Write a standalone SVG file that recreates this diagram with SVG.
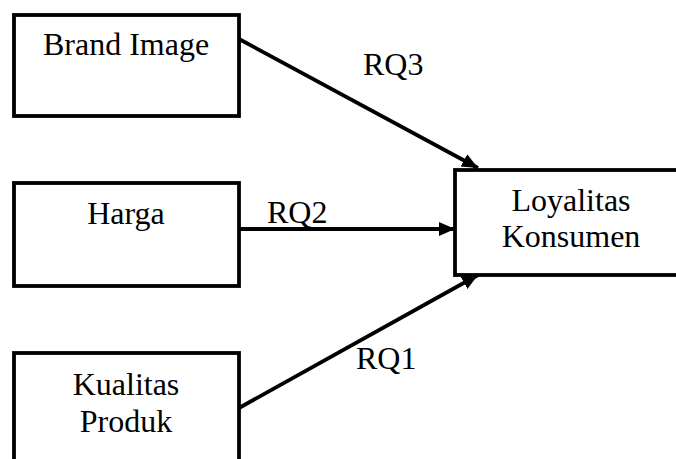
<svg xmlns="http://www.w3.org/2000/svg" width="676" height="459" viewBox="0 0 676 459">
<style>
.box{fill:#fff;stroke:#000;stroke-width:3.8}
.t{font-family:"Liberation Serif","Times New Roman",serif;font-size:32px;fill:#000}
.c{text-anchor:middle}
.ln{stroke:#000;stroke-width:3.8;fill:none}
</style>
<defs>
<marker id="ah" markerUnits="userSpaceOnUse" markerWidth="18" markerHeight="16" refX="16" refY="7" orient="auto">
<path d="M0,0 L16,7 L0,14 Z" fill="#000"/>
</marker>
</defs>
<g id="brand">
<rect class="box" x="14" y="15" width="225" height="101"/>
<text class="t c" x="126" y="55">Brand Image</text>
</g>
<g id="harga">
<rect class="box" x="14" y="183" width="225" height="103"/>
<text class="t c" x="126" y="224">Harga</text>
</g>
<g id="kualitas">
<rect class="box" x="14" y="353" width="225" height="120"/>
<text class="t c" x="126" y="395">Kualitas</text>
<text class="t c" x="126" y="432">Produk</text>
</g>
<g id="loyalitas">
<rect class="box" x="455" y="170" width="240" height="105"/>
<text class="t c" x="571" y="211">Loyalitas</text>
<text class="t c" x="571" y="247">Konsumen</text>
</g>
<g id="connectors">
<line class="ln" x1="239" y1="39" x2="478" y2="168" marker-end="url(#ah)"/>
<line class="ln" x1="239" y1="229" x2="455" y2="229" marker-end="url(#ah)"/>
<line class="ln" x1="239" y1="408" x2="478" y2="275" marker-end="url(#ah)"/>
<text class="t" x="363" y="75">RQ3</text>
<text class="t" x="267" y="223">RQ2</text>
<text class="t" x="356" y="369">RQ1</text>
</g>
</svg>
